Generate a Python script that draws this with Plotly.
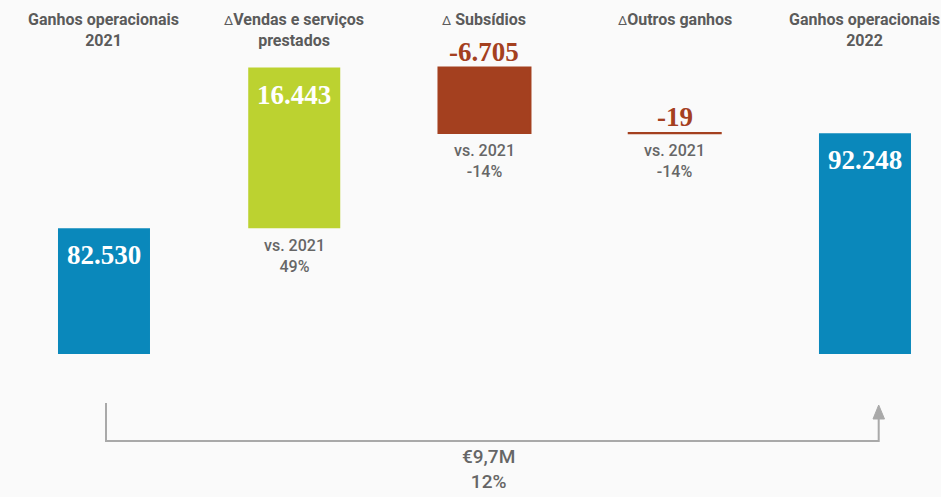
import plotly.graph_objects as go

# ---- data -------------------------------------------------------------
categories = [
    "Ganhos operacionais<br>2021",
    "∆Vendas e serviços<br>prestados",
    "∆ Subsídios",
    "∆Outros ganhos",
    "Ganhos operacionais<br>2022",
]
measures = ["absolute", "relative", "relative", "relative", "absolute"]
values = [82530, 16443, -6705, -19, 92248]
change_pct = [None, "49%", "-14%", "-14%", None]
base_year = "2021"

# ---- style ------------------------------------------------------------
BLUE = "#0a88bb"
GREEN = "#bcd230"
RUST = "#a4401f"
HEAD_GRAY = "#5b5b5b"
SUB_GRAY = "#666666"
LINE_GRAY = "#a9a9a9"
BG = "#fafafa"

W, H = 941, 497
PLOT_BOTTOM_PX = 354  # plot area runs from the top edge down to here
Y_RANGE = [69650, 105895]
X_RANGE = [-0.5466, 4.3996]
BAR_WIDTH = 0.4836

DELTA_HTML = '<span style="font-size:13px;font-weight:400">∆</span>'


def fmt(v):
    return f"{v:,}".replace(",", ".")


def px_to_paper_y(py):
    return (PLOT_BOTTOM_PX - py) / PLOT_BOTTOM_PX


# running totals give each bar's upper and lower edge
tops, bottoms = [], []
running = 0
for m, v in zip(measures, values):
    if m == "absolute":
        start, running = 0, v
    else:
        start, running = running, running + v
    tops.append(max(start, running))
    bottoms.append(min(start, running))

fig = go.Figure(
    go.Waterfall(
        x=categories,
        y=values,
        measure=measures,
        width=BAR_WIDTH,
        connector=dict(visible=False),
        increasing=dict(marker=dict(color=GREEN)),
        decreasing=dict(marker=dict(color=RUST, line=dict(color=RUST, width=2))),
        totals=dict(marker=dict(color=BLUE)),
        textinfo="none",
        hoverinfo="skip",
    )
)

annotations = []
value_font = dict(family="Liberation Serif", size=27, weight="bold")
sub_font = dict(family="Roboto", size=16, color=SUB_GRAY, weight=500)

for cat, m, v, top, bot, pct in zip(categories, measures, values, tops, bottoms, change_pct):
    # column heading
    annotations.append(dict(
        x=cat, xref="x", y=1, yref="paper", yanchor="top", yshift=-8,
        text=cat.replace("∆", DELTA_HTML), showarrow=False, align="center",
        font=dict(family="Roboto", size=16, color=HEAD_GRAY, weight="bold"),
    ))
    if v >= 0:
        # white figure inside the top of the bar
        annotations.append(dict(
            x=cat, xref="x", y=top, yref="y", yanchor="middle", yshift=-27,
            text=fmt(v), showarrow=False,
            font=dict(value_font, color="white"),
        ))
    else:
        # drops are labelled above the bar
        annotations.append(dict(
            x=cat, xref="x", y=top, yref="y", yanchor="middle", yshift=16,
            text=fmt(v), showarrow=False,
            font=dict(value_font, color=RUST),
        ))
    if pct is not None:
        annotations.append(dict(
            x=cat, xref="x", y=bot, yref="y", yanchor="top", yshift=-6,
            text=f"vs. {base_year}<br>{pct}", showarrow=False, align="center",
            font=sub_font,
        ))

# overall change between the two totals
diff = values[-1] - values[0]
diff_text = f"€{diff / 1000:.1f}M".replace(".", ",")
diff_pct = f"{round(diff / values[0] * 100)}%"
annotations.append(dict(
    x=488 / W, xref="paper", y=px_to_paper_y(469), yref="paper", yanchor="middle",
    text=f"{diff_text}<br>{diff_pct}", showarrow=False, align="center",
    font=dict(family="Roboto", size=19, color=SUB_GRAY, weight=500),
))

# bracket arrow linking the two totals
xl, xr = 106 / W, 878.7 / W
y_top_left = px_to_paper_y(403)
y_low = px_to_paper_y(441)
y_head_base = px_to_paper_y(419)
y_tip = px_to_paper_y(405)
shapes = [
    dict(type="path", xref="paper", yref="paper",
         path=f"M {xl},{y_top_left} L {xl},{y_low} L {xr},{y_low} L {xr},{y_head_base}",
         line=dict(color=LINE_GRAY, width=2)),
    dict(type="path", xref="paper", yref="paper",
         path=f"M {873 / W},{y_head_base} L {xr},{y_tip} L {884.5 / W},{y_head_base} Z",
         fillcolor=LINE_GRAY, line=dict(color=LINE_GRAY, width=1)),
]

fig.update_layout(
    width=W, height=H,
    margin=dict(l=0, r=0, t=0, b=H - PLOT_BOTTOM_PX),
    paper_bgcolor=BG, plot_bgcolor=BG,
    showlegend=False,
    xaxis=dict(visible=False, range=X_RANGE),
    yaxis=dict(visible=False, range=Y_RANGE),
    annotations=annotations,
    shapes=shapes,
)

fig.write_html("out.html")
